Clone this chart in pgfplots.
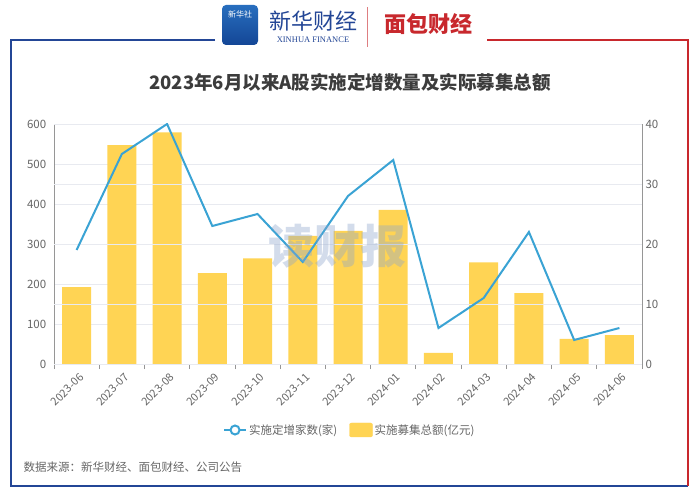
\documentclass[border=0pt]{standalone}
\usepackage{fontspec}
\setmainfont{Noto Sans CJK SC}
\newfontfamily\serifx{Liberation Serif}
\usepackage{pgfplots}
\pgfplotsset{compat=1.18}
\definecolor{barY}{RGB}{255,212,84}
\definecolor{lineB}{RGB}{58,163,212}
\definecolor{gridC}{RGB}{232,234,240}
\definecolor{axC}{RGB}{150,150,150}
\definecolor{txtC}{RGB}{102,102,102}
\definecolor{titleC}{RGB}{60,60,60}
\definecolor{frameB}{RGB}{35,70,150}
\definecolor{frameR}{RGB}{200,40,45}
\definecolor{wmC}{RGB}{140,165,205}
\definecolor{logoT}{RGB}{40,110,190}
\definecolor{logoB}{RGB}{20,70,150}

\pgfplotsset{
  base/.style={
    scale only axis, width=588pt, height=240pt,
    at={(54pt,131pt)}, anchor=south west,
    xmin=-0.5, xmax=12.5,
    axis line style={draw=axC, line width=0.8pt, -},
    tick label style={font=\fontsize{11.5}{13}\selectfont, text=txtC},
    /pgf/number format/assume math mode=true,
    ymajorgrids, grid style={gridC, line width=0.8pt},
    ytick style={draw=none},
  }
}

\begin{document}
\begin{tikzpicture}[x=1pt,y=1pt]
\useasboundingbox (0,0) rectangle (700,495);
\fill[white] (0,0) rectangle (700,495);

% frame
\draw[frameB, line width=1.5pt] (215,455) -- (11,455) -- (11,9) -- (688,9);
\draw[frameR, line width=1.5pt] (487,455) -- (688,455) -- (688,9);

% logos
\shade[top color=logoT, bottom color=logoB, rounded corners=4pt] (222,450) rectangle (258,490);
\node[text=white, font=\fontsize{8}{8}\selectfont] at (240,481) {新华社};
\node[text=frameB, font=\fontsize{22}{22}\selectfont\itshape] at (313,474) {新华财经};
\node[text=frameB, font=\serifx\fontsize{8.5}{9}\selectfont] at (313,455) {XINHUA FINANCE};
\draw[frameR!60, line width=0.8pt] (367,448) -- (367,488);
\node[text=frameR, font=\fontsize{22}{22}\selectfont\bfseries] at (428,471) {面包财经};

% title
\node[text=titleC, font=\fontsize{18.5}{20}\selectfont\bfseries] at (350,413) {2023年6月以来A股实施定增数量及实际募集总额};

% bars: 实施募集总额(亿元)
\begin{axis}[base,
  ymin=0, ymax=600, ytick={0,100,...,600},
  axis x line*=bottom, axis y line*=left,
  ybar, bar width=29pt,
  xtick={0,...,12},
  xticklabels={2023-06,2023-07,2023-08,2023-09,2023-10,2023-11,2023-12,2024-01,2024-02,2024-03,2024-04,2024-05,2024-06},
  x tick label style={rotate=45, anchor=north east, xshift=2pt, yshift=-1pt,
    font=\fontsize{11}{12}\selectfont},
  xtick style={draw=none},
  minor xtick={-0.5,0.5,...,12.5},
  minor x tick style={draw=axC, line width=0.8pt},
  minor tick length=5pt, tick align=outside,
]
\addplot[fill=barY, draw=none] coordinates {
  (0,192) (1,547) (2,579) (3,227) (4,264) (5,320) (6,333)
  (7,385) (8,28) (9,254) (10,177) (11,63) (12,72)
};
\end{axis}

% line: 实施定增家数(家)
\begin{axis}[base,
  ymin=0, ymax=40, ytick={0,10,...,40},
  axis x line=none, axis y line*=right,
  legend style={at={(0.503,-0.275)}, anchor=center, draw=none, fill=none,
    legend columns=2, font=\fontsize{11.5}{13}\selectfont, text=txtC,
    /tikz/every even column/.append style={column sep=10pt}},
]
\addlegendimage{legend image code/.code={
  \draw[lineB, line width=2pt] (0pt,0pt) -- (22pt,0pt);
  \draw[lineB, line width=2pt, fill=white] (11pt,0pt) circle (4.5pt);}}
\addlegendentry{实施定增家数(家)}
\addlegendimage{legend image code/.code={
  \fill[barY, rounded corners=2pt] (0pt,-7pt) rectangle (23pt,7pt);}}
\addlegendentry{实施募集总额(亿元)}
\addplot[forget plot, lineB, line width=2pt, sharp plot, mark=none] coordinates {
  (0,19) (1,35) (2,40) (3,23) (4,25) (5,17) (6,28)
  (7,34) (8,6) (9,11) (10,22) (11,4) (12,6)
};
\end{axis}

% watermark
\node[text=wmC, opacity=0.38, font=\fontsize{46}{46}\selectfont\bfseries] at (337,249) {读财报};

% source
\node[anchor=west, text=txtC, font=\fontsize{11.5}{13}\selectfont] at (20,28) {数据来源：新华财经、面包财经、公司公告};
\end{tikzpicture}
\end{document}
